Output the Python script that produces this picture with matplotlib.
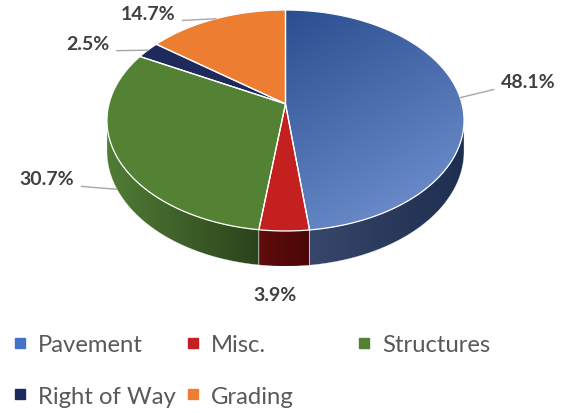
import numpy as np
import matplotlib
matplotlib.use("Agg")
import matplotlib.pyplot as plt
from matplotlib.patches import Polygon
from matplotlib.lines import Line2D
from matplotlib.colors import LinearSegmentedColormap

categories = ["Pavement", "Misc.", "Structures", "Right of Way", "Grading"]
shares = [48.1, 3.9, 30.7, 2.5, 14.7]

# styling
top_colors = ["#4472C4", "#C4201F", "#548235", "#1F2A5C", "#ED7D31"]
side_colors = [("#36476b", "#1d2e4f"), ("#600c0c", "#4a0707"),
               ("#507c35", "#2b431c"), ("#121a3a", "#121a3a"), ("#a0521c", "#a0521c")]
label_pos = [(528, 82), (275, 296), (47, 180), (88, 45), (148, 15)]  # px from top-left
label_rel = [(0.0, 0.1), (0.5, 0.5), (1.0, 0.1), (1.0, 0.1), (1.0, 0.1)]

plt.rcParams["font.family"] = ["Lato", "DejaVu Sans"]

W, H = 564, 414
CX, CY0 = 285.5, 104.9      # projected pie centre (px)
A, B = 176.5, 108.0         # projected radii
K = 0.15                    # perspective strength
DEPTH = 30.0                # pie thickness (px)


def proj(t, h=0.0):
    r = np.radians(t)
    den = 1 + K * np.sin(r)
    return np.column_stack([CX + A * np.cos(r) / den,
                            CY0 + (-B * np.sin(r) + h) / den])


def gradient_fill(ax, xy, c0, c1, wx, wy, zorder):
    patch = Polygon(xy, closed=True, facecolor="none", edgecolor="none")
    ax.add_patch(patch)
    x0, y0 = xy.min(0)
    x1, y1 = xy.max(0)
    xx, yy = np.meshgrid(np.linspace(0, 1, 200), np.linspace(0, 1, 200))
    val = wx * xx + wy * yy
    val = (val - val.min()) / (val.max() - val.min() + 1e-9)
    cmap = LinearSegmentedColormap.from_list("g", [c0, c1])
    im = ax.imshow(val, cmap=cmap, extent=(x0, x1, y0, y1), origin="lower",
                   aspect="auto", interpolation="bilinear", zorder=zorder)
    im.set_clip_path(patch)


fig = plt.figure(figsize=(W / 100, H / 100), dpi=100)
ax = fig.add_axes([0, 0, 1, 1])
ax.axis("off")

fr = np.array(shares) / sum(shares)
bounds = 90 - 360 * np.concatenate([[0], np.cumsum(fr)])
edge = np.degrees(np.arcsin(K))
front_lo, front_hi = -180 + edge, -edge

# side walls (visible front part only)
for i in range(len(shares)):
    lo, hi = max(bounds[i + 1], front_lo), min(bounds[i], front_hi)
    if lo >= hi:
        continue
    t = np.linspace(lo, hi, 120)
    xy = np.vstack([proj(t), proj(t[::-1], DEPTH)])
    c0, c1 = side_colors[i]
    gradient_fill(ax, xy, c0, c1, 1, 0, 1)
    ax.add_patch(Polygon(xy, closed=True, facecolor="none", edgecolor="white",
                         linewidth=0.4, alpha=0.6, zorder=2))

# top surface
for i in range(len(shares)):
    t = np.linspace(bounds[i], bounds[i + 1], 200)
    xy = np.vstack([[CX, CY0], proj(t)])
    if i == 0:
        gradient_fill(ax, xy, "#2B4E90", "#7696D3", 0.3, 0.7, 3)
    else:
        ax.add_patch(Polygon(xy, closed=True, facecolor=top_colors[i],
                             edgecolor="none", zorder=3))
    ax.add_patch(Polygon(xy, closed=True, facecolor="none", edgecolor="white",
                         linewidth=0.9, zorder=4))

# data labels with leader lines
mids = (bounds[:-1] + bounds[1:]) / 2
for i, v in enumerate(shares):
    m = mids[i]
    on_front = front_lo <= m <= front_hi or front_lo <= m + 360 <= front_hi
    anchor = proj(np.array([m]), DEPTH if on_front else 0.0)[0]
    arrow = None
    if i != 1:
        arrow = dict(arrowstyle="-", color="#a6a6a6", lw=1.0,
                     relpos=label_rel[i], shrinkA=3, shrinkB=0)
    ax.annotate(f"{v:.1f}%", xy=anchor, xycoords="data",
                xytext=label_pos[i], textcoords="data",
                ha="center", va="center", fontsize=14, fontweight="bold",
                color="#404040", arrowprops=arrow, zorder=6)

ax.set_xlim(0, W)
ax.set_ylim(H, 0)

# legend: three columns so that entries read row by row
columns = [[0, 3], [1, 4], [2]]
col_x = [13, 186, 357]
for col, x in zip(columns, col_x):
    handles = [Line2D([], [], marker="s", linestyle="none", markersize=6.5,
                      color=top_colors[k]) for k in col]
    fig.legend(handles, [categories[k] for k in col], loc="upper left",
               bbox_to_anchor=(x / W, 1 - 335 / H), frameon=False,
               fontsize=17.2, labelcolor="#595959", handlelength=0.6,
               handletextpad=0.45, labelspacing=1.28, borderpad=0,
               borderaxespad=0)

fig.savefig("out.png", dpi=100)
